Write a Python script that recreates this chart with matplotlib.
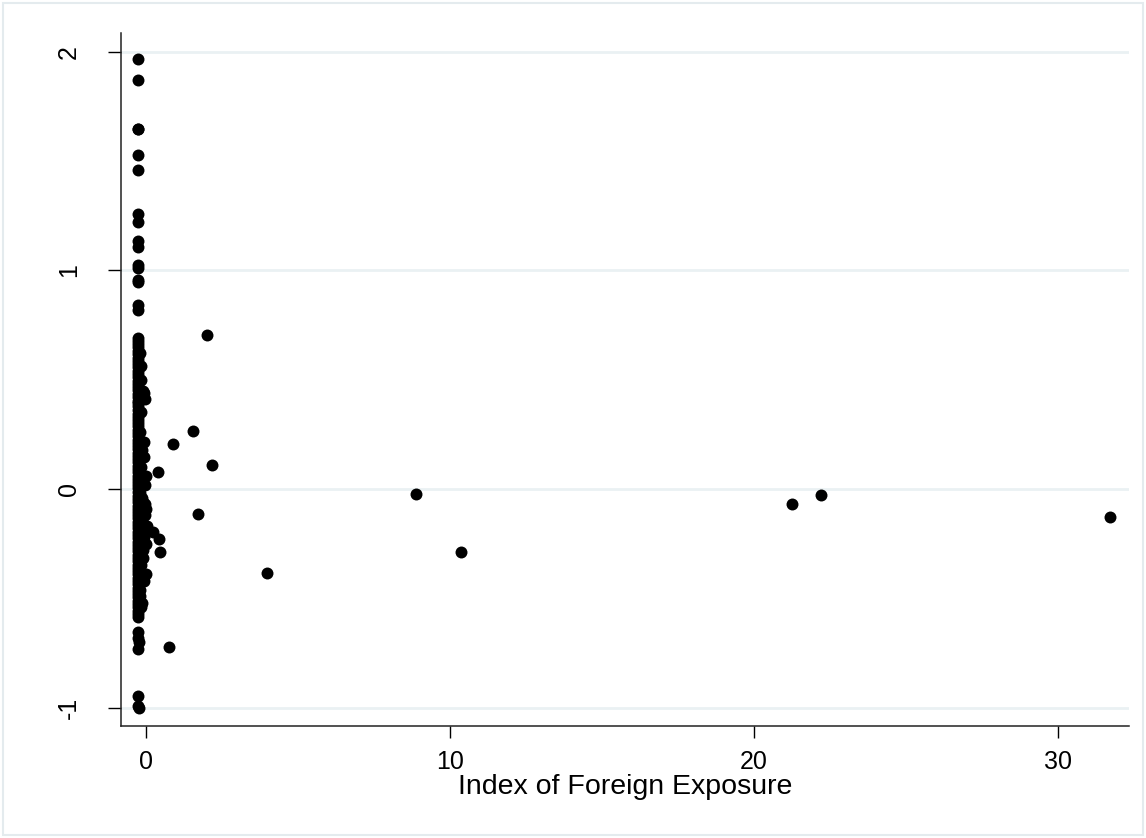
import matplotlib.pyplot as plt
from matplotlib.patches import Rectangle

# =========================
# 0. Style config
# =========================
FIG_WIDTH = 11.46
FIG_HEIGHT = 8.38
DPI = 100

TICK_SIZE = 18
LABEL_SIZE = 20.5
MARKER_SIZE = 8.6

GRID_COLOR = "#eaf1f3"
FRAME_COLOR = "#e4ebee"

plt.rcParams.update({
    "font.family": ["Liberation Sans", "DejaVu Sans"],
    "axes.unicode_minus": False,
})

# =========================
# 1. Data
# =========================
# tall column of firms just below zero exposure
col_x = [-0.25] * 16
col_y = [1.965, 1.870, 1.647, 1.646, 1.526, 1.459, 1.257, 1.219,
         1.135, 1.105, 1.024, 1.010, 0.956, 0.945, 0.841, 0.818]

# dense band, main column
band_x = [-0.25] * 86
band_y = [0.69, 0.677, 0.662, 0.648, 0.631, 0.617, 0.601, 0.586, 0.572, 0.556,
          0.541, 0.527, 0.511, 0.494, 0.481, 0.466, 0.452, 0.436, 0.421, 0.404,
          0.391, 0.377, 0.362, 0.344, 0.331, 0.316, 0.301, 0.287, 0.271, 0.254,
          0.241, 0.226, 0.212, 0.196, 0.181, 0.166, 0.149, 0.136, 0.121, 0.104,
          0.091, 0.076, 0.061, 0.044, 0.031, 0.016, 0.002, -0.014, -0.031, -0.046,
          -0.059, -0.076, -0.091, -0.106, -0.121, -0.134, -0.151, -0.166, -0.179, -0.196,
          -0.211, -0.224, -0.241, -0.256, -0.269, -0.286, -0.301, -0.316, -0.329, -0.346,
          -0.361, -0.376, -0.389, -0.406, -0.421, -0.434, -0.451, -0.466, -0.479, -0.496,
          -0.511, -0.524, -0.541, -0.556, -0.571, -0.586]

# dense band, points sitting slightly to the right
side_x = [-0.18, -0.17, -0.15, -0.1, -0.05, -0.02, -0.12, -0.16, -0.06, -0.18,
          -0.07, -0.14, 0.0, -0.03, -0.17, -0.02, 0.0, -0.02, -0.05, -0.12,
          -0.1, 0.05, -0.05, 0.0, -0.08, -0.15, -0.08, 0.0, -0.05, -0.15,
          -0.2, -0.18, -0.12, -0.16, -0.2, -0.19, -0.12, -0.1, -0.14, -0.08]
side_y = [0.62, 0.56, 0.50, 0.45, 0.44, 0.41, 0.43, 0.35, 0.216, 0.26,
          0.146, 0.18, 0.06, 0.018, 0.10, -0.07, -0.09, -0.12, -0.10, -0.04,
          -0.16, -0.17, -0.22, -0.25, -0.28, -0.20, -0.316, -0.39, -0.42, -0.35,
          -0.46, -0.49, -0.52, -0.54, -0.30, -0.02, -0.14, -0.19, -0.24, -0.06]

# lower tail of the column
tail_x = [-0.25, -0.25, -0.22, -0.25, -0.25, -0.25, -0.22]
tail_y = [-0.656, -0.68, -0.70, -0.73, -0.947, -0.995, -1.0]

# firms with positive exposure
out_x = [2.02, 1.56, 0.88, 2.16, 0.40, 1.72, 0.44, 0.48, 0.24, 3.97,
         0.77, 8.89, 10.38, 21.24, 22.20, 31.70]
out_y = [0.704, 0.267, 0.206, 0.110, 0.079, -0.113, -0.229, -0.288, -0.198, -0.383,
         -0.724, -0.024, -0.290, -0.067, -0.027, -0.128]

x_ticks = [0, 10, 20, 30]
y_ticks = [-1, 0, 1, 2]

# =========================
# 2. Plot
# =========================
fig = plt.figure(figsize=(FIG_WIDTH, FIG_HEIGHT), dpi=DPI)
ax = fig.add_axes([0.1053, 0.1337, 0.8799, 0.8269])

for ty in y_ticks:
    ax.axhline(ty, color=GRID_COLOR, linewidth=2.0, zorder=0)

for xs, ys in [(col_x, col_y), (band_x, band_y), (side_x, side_y),
               (tail_x, tail_y), (out_x, out_y)]:
    ax.plot(xs, ys, linestyle="None", marker="o", markersize=MARKER_SIZE,
            color="black", markeredgewidth=0, zorder=3)

ax.set_xlim(-0.83, 32.34)
ax.set_ylim(-1.084, 2.085)

ax.set_xticks(x_ticks)
ax.set_xticklabels([str(t) for t in x_ticks])
ax.set_yticks(y_ticks)
ax.set_yticklabels([str(t) for t in y_ticks], rotation=90, va="center")

ax.tick_params(axis="x", length=8.5, width=1.0, pad=9, labelsize=TICK_SIZE)
ax.tick_params(axis="y", length=9.5, width=1.0, pad=19, labelsize=TICK_SIZE)

ax.set_xlabel("Index of Foreign Exposure", fontsize=LABEL_SIZE, labelpad=0)

for side in ["top", "right"]:
    ax.spines[side].set_visible(False)
for side in ["left", "bottom"]:
    ax.spines[side].set_linewidth(1.1)
    ax.spines[side].set_color("#222222")

# light outline round the whole graph region
fig.patches.append(Rectangle((0.003, 0.004), 0.994, 0.992, transform=fig.transFigure,
                             fill=False, edgecolor=FRAME_COLOR, linewidth=1.5))

fig.savefig("out.png", dpi=DPI)
